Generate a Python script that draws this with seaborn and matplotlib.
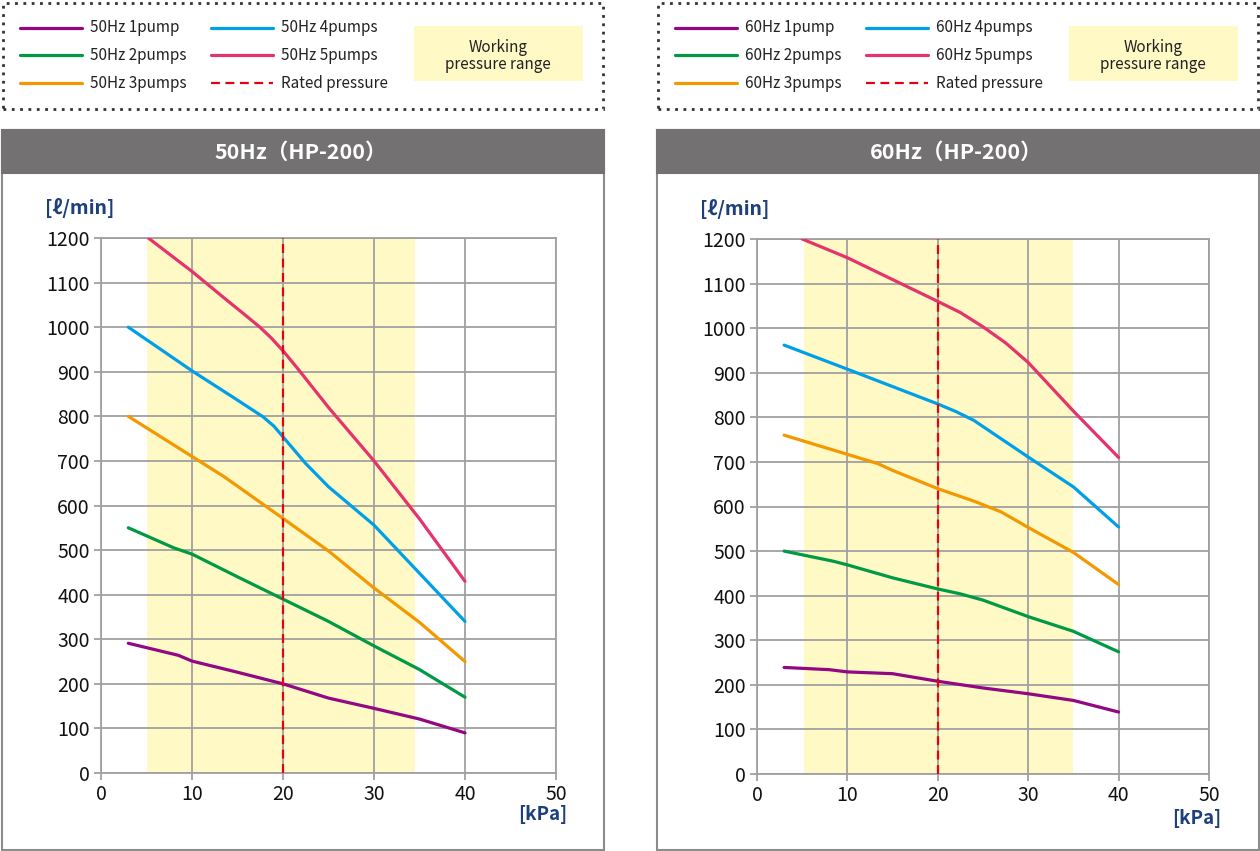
import matplotlib
matplotlib.use("Agg")
import matplotlib.pyplot as plt
from matplotlib.patches import Rectangle
from matplotlib.lines import Line2D
import seaborn as sns
import pandas as pd

sns.set_theme(style="white")
plt.rcParams['font.family'] = ['Noto Sans CJK JP', 'DejaVu Sans']

# ---------------- data ----------------
x_ticks = [0, 10, 20, 30, 40, 50]
y_ticks = [0, 100, 200, 300, 400, 500, 600, 700, 800, 900, 1000, 1100, 1200]
rated_pressure = 20

# 50 Hz
p50_1 = [3, 8.5, 10, 15, 20, 25, 30, 35, 40]
q50_1 = [291, 264, 251, 226, 200, 168, 145, 121, 90]
p50_2 = [3, 8, 10, 15, 20, 25, 30, 35, 40]
q50_2 = [550, 505, 491, 440, 390, 340, 285, 232, 170]
p50_3 = [3, 10, 13.5, 20, 25, 30, 35, 40]
q50_3 = [800, 710, 665, 571, 498, 415, 338, 250]
p50_4 = [3, 10, 14.5, 17.8, 19, 20, 22.5, 25, 30, 35, 40]
q50_4 = [1000, 902, 843, 799, 778, 754, 694, 642, 556, 448, 340]
p50_5 = [5.2, 10, 13.8, 15.5, 17.4, 18.7, 20, 21.5, 25, 30, 35, 40]
q50_5 = [1200, 1125, 1061, 1033, 1001, 976, 947, 910, 820, 700, 570, 430]
work50 = (5, 34.5)

# 60 Hz
p60_1 = [3, 8, 10, 15, 20, 25, 30, 35, 40]
q60_1 = [239, 234, 229, 225, 208, 193, 180, 165, 139]
p60_2 = [3, 8.5, 10, 15, 20, 22.5, 25, 30, 35, 40]
q60_2 = [500, 477, 469, 440, 415, 404, 390, 353, 320, 274]
p60_3 = [3, 10, 13.4, 15, 20, 24, 27, 30, 35, 40]
q60_3 = [760, 717, 696, 681, 640, 612, 588, 553, 497, 425]
p60_4 = [3, 10, 20, 22, 24, 27, 30, 35, 40]
q60_4 = [962, 908, 830, 813, 793, 752, 711, 644, 554]
p60_5 = [5, 10, 20, 22.5, 25, 27.5, 30, 35, 40]
q60_5 = [1200, 1158, 1060, 1035, 1003, 967, 923, 814, 710]
work60 = (5.2, 35)

labels_pump = ["1pump", "2pumps", "3pumps", "4pumps", "5pumps"]
colors = ["#920783", "#009944", "#F39800", "#00A0E9", "#E5336C"]
rated_color = "#E60012"
yellow = "#FFF9C6"
navy = "#1D3F7C"

W, H = 1260, 851
fig = plt.figure(figsize=(W / 100, H / 100), dpi=100)


def fx(px):
    return px / W


def fy(py):
    return 1 - py / H


def frect(x0, y0, x1, y1, **kw):
    r = Rectangle((fx(x0), fy(y1)), fx(x1) - fx(x0), fy(y0) - fy(y1),
                  transform=fig.transFigure, **kw)
    fig.patches.append(r)


def draw_panel(x_off, freq, curves, work, ax_box, ylab_pos, xlab_pos):
    # legend box (dotted)
    frect(x_off + 3, 3, x_off + 603, 109, fill=False, edgecolor="#333333",
          linewidth=2, linestyle=(0, (1, 2)))
    rows = [28, 55, 83]
    entries = [(f"{freq} {labels_pump[i]}", colors[i], "-") for i in range(5)]
    entries.append(("Rated pressure", rated_color, "--"))
    for i, (lab, col, ls) in enumerate(entries):
        col_i, row_i = divmod(i, 3)
        lx0 = x_off + (20 if col_i == 0 else 211)
        ly = rows[row_i]
        if ls == "-":
            fig.add_artist(Line2D([fx(lx0), fx(lx0 + 62)], [fy(ly), fy(ly)],
                                  transform=fig.transFigure, color=col, lw=2.3))
        else:
            fig.add_artist(Line2D([fx(lx0), fx(lx0 + 62)], [fy(ly), fy(ly)],
                                  transform=fig.transFigure, color=col, lw=1.6,
                                  dashes=(4, 2.5)))
        fig.text(fx(lx0 + 70), fy(ly), lab, fontsize=11, va="center", ha="left",
                 color="#222222")
    frect(x_off + 414, 26, x_off + 583, 81, facecolor=yellow, edgecolor="none")
    fig.text(fx(x_off + 498), fy(56), "Working\npressure range", fontsize=11,
             ha="center", va="center", linespacing=1.0, color="#222222")

    # panel frame and title bar
    frect(x_off + 2, 130, x_off + 604, 850, fill=False, edgecolor="#8C8C8C", linewidth=1.5)
    frect(x_off + 2, 130, x_off + 604, 173, facecolor="#737171", edgecolor="#737171",
          linewidth=1.5)
    fig.text(fx(x_off + 301), fy(152), f"{freq}（HP-200）", fontsize=15.5,
             fontweight="semibold", color="white", ha="center", va="center")

    # axes
    x0, y0, x1, y1 = ax_box
    ax = fig.add_axes([fx(x0), fy(y1), fx(x1) - fx(x0), fy(y0) - fy(y1)])
    ax.axvspan(work[0], work[1], color=yellow, lw=0, zorder=0)
    for (px, qy), col in zip(curves, colors):
        df = pd.DataFrame({"p": px, "q": qy})
        sns.lineplot(data=df, x="p", y="q", color=col, linewidth=2.3, ax=ax,
                     zorder=3, sort=True, estimator=None)
    ax.plot([rated_pressure, rated_pressure], [0, 1200], color=rated_color, lw=1.6,
            dashes=(4, 2.5), zorder=4)
    ax.set_xlim(0, 50)
    ax.set_ylim(0, 1200)
    ax.set_xticks(x_ticks)
    ax.set_yticks(y_ticks)
    ax.grid(True, color="#A0A0A0", linewidth=1.3, zorder=1)
    ax.set_axisbelow(True)
    for s in ax.spines.values():
        s.set_color("#A0A0A0")
        s.set_linewidth(1.3)
    ax.tick_params(axis="both", which="both", length=5, width=1.3, color="#A0A0A0",
                   labelsize=14, labelcolor="#111111", pad=3,
                   left=True, bottom=True)
    ax.set_xlabel("")
    ax.set_ylabel("")
    ax.patch.set_alpha(0)
    fig.text(fx(ylab_pos[0]), fy(ylab_pos[1]), "[ℓ/min]", fontsize=14, fontweight="bold",
             color=navy, ha="center", va="center")
    fig.text(fx(xlab_pos[0]), fy(xlab_pos[1]), "[kPa]", fontsize=13.5, fontweight="bold",
             color=navy, ha="center", va="center")
    return ax


curves50 = [(p50_1, q50_1), (p50_2, q50_2), (p50_3, q50_3), (p50_4, q50_4), (p50_5, q50_5)]
curves60 = [(p60_1, q60_1), (p60_2, q60_2), (p60_3, q60_3), (p60_4, q60_4), (p60_5, q60_5)]

draw_panel(0, "50Hz", curves50, work50, (101, 238, 556, 773), (80, 208), (543, 815))
draw_panel(655, "60Hz", curves60, work60, (757, 239, 1209, 774), (735, 209), (1197, 818))

fig.savefig("out.png", dpi=100)
